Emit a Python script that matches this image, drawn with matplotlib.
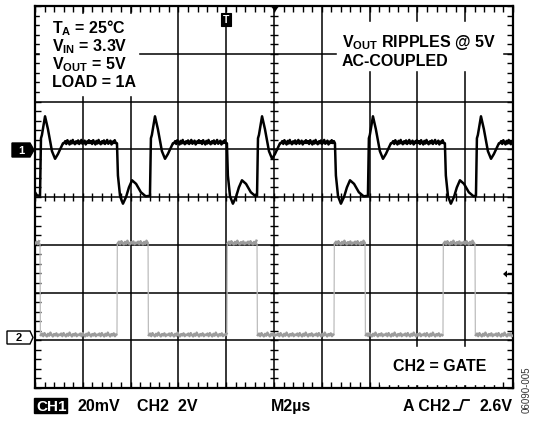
import numpy as np
import matplotlib
matplotlib.use("Agg")
import matplotlib.pyplot as plt
from matplotlib.patches import Polygon, Rectangle

plt.rcParams["font.family"] = ["Liberation Sans", "DejaVu Sans"]
plt.rcParams["mathtext.default"] = "regular"

# --- CH1: Vout ripple (mV), 2 us/div, 20 mV/div ---
start_mv = [-18.0, -19.3]                       # trace before the first rising edge
rise_t = [0.21, 4.81, 9.29, 13.93, 18.45]       # us, switch turns off -> output jumps
drop_t = [3.43, 8.03, 12.55, 17.15]             # us, switch turns on -> output drops
ring_dt = [0.00, 0.04, 0.08, 0.21, 0.33, 0.50, 0.63, 0.75, 0.96]
ring_mv = [-19.5, 4.6, 6.0, 13.8, 8.5, -0.8, -4.0, -2.0, 2.5]
dip_dt = [0.00, 0.04, 0.13, 0.25, 0.38, 0.50, 0.63, 0.80, 1.00, 1.20]
dip_mv = [2.5, -11.0, -19.7, -22.8, -20.0, -16.0, -13.0, -14.5, -18.0, -19.7]
# trace noise on the flat top (mV)
flat_mv = [2.6, 3.4, 2.2, 3.8, 2.9, 2.0, 3.5, 2.4, 3.9, 2.7, 2.1, 3.3,
           2.5, 3.7, 2.2, 3.0, 3.9, 2.3, 2.8, 3.6, 2.0, 3.2, 2.6, 3.8]

# --- CH2: gate drive (V), 2 V/div ---
gate_up_t = [3.43, 8.03, 12.51, 17.07]
gate_down_t = [0.21, 4.73, 9.29, 13.81, 18.41]
gate_hi_v = 4.06
gate_lo_v = 0.21
gate_noise_v = [0.00, 0.07, -0.04, 0.09, 0.01, -0.05, 0.06, -0.02, 0.11, 0.02,
                -0.05, 0.05, -0.01, 0.08, -0.04, 0.03]

CH1_POS = 5.0   # screen divisions of the channel markers
CH2_POS = 1.0


def build_ch1():
    t = [0.0, 0.08]
    v = list(start_mv)
    for i, r in enumerate(rise_t):
        t += [r + d for d in ring_dt]
        v += ring_mv
        f0 = r + ring_dt[-1]
        f1 = drop_t[i] if i < len(drop_t) else 20.0
        ft = np.arange(f0 + 0.05, f1 - 0.02, 0.045)
        t += list(ft)
        v += [flat_mv[k % len(flat_mv)] for k in range(len(ft))]
        if i < len(drop_t):
            t += [drop_t[i] + d for d in dip_dt]
            v += dip_mv
    t.append(20.0)
    v.append(flat_mv[0])
    return np.array(t), CH1_POS + np.array(v) / 20.0


def build_ch2():
    edges = sorted([(x, 0) for x in gate_down_t] + [(x, 1) for x in gate_up_t])
    t, v = [0.0], [gate_hi_v]
    level = gate_hi_v
    segs = []
    last = 0.0
    for x, up in edges:
        segs.append((last, x, level))
        new = gate_hi_v if up else gate_lo_v
        t += [x, x + 0.015]
        v += [level, new]
        level, last = new, x + 0.015
    segs.append((last, 20.0, level))
    t.append(20.0)
    v.append(level)
    return np.array(t), CH2_POS + np.array(v) / 2.0, segs


fig = plt.figure(figsize=(5.35, 4.21), dpi=100)
ax = fig.add_axes([35 / 535, 33 / 421, 478 / 535, 382 / 421])
ax.set_xlim(0, 20)
ax.set_ylim(0, 8)

# graticule
for x in range(0, 21, 2):
    ax.axvline(x, color="k", lw=1.1, zorder=1)
for y in range(0, 9):
    ax.axhline(y, color="k", lw=1.1, zorder=1)
for s in ax.spines.values():
    s.set_linewidth(1.6)
ax.set_xticks(range(0, 21, 2))
ax.set_xticks(np.arange(0, 20.01, 0.4), minor=True)
ax.set_yticks(range(0, 9))
ax.set_yticks(np.arange(0, 8.01, 0.2), minor=True)
ax.tick_params(which="both", direction="in", length=4, width=1,
               top=True, right=True, labelbottom=False, labelleft=False)
cx = np.arange(0, 20.01, 0.4)
ax.plot(cx, np.full(len(cx), 4.0), ls="none", marker="|", ms=6, mew=1, color="k", zorder=1)
cy = np.arange(0, 8.01, 0.2)
ax.plot(np.full(len(cy), 10.0), cy, ls="none", marker="_", ms=6, mew=1, color="k", zorder=1)

# traces
gt, gv, gsegs = build_ch2()
ax.plot(gt, gv, color="#bdbdbd", lw=0.9, zorder=3)
for a, b, lv in gsegs:
    xs = np.arange(a + 0.02, b - 0.01, 0.05)
    ys = [lv + gate_noise_v[k % len(gate_noise_v)] for k in range(len(xs))]
    ax.plot(xs, CH2_POS + np.array(ys) / 2.0, color="#9c9c9c", lw=1.7, zorder=3)
t1, v1 = build_ch1()
ax.plot(t1, v1, color="k", lw=1.8, zorder=4, solid_joinstyle="round")

# overlay in pixel coordinates for screen annotations
ov = fig.add_axes([0, 0, 1, 1])
ov.set_xlim(0, 535)
ov.set_ylim(421, 0)
ov.axis("off")

ov.add_patch(Rectangle((40, 14), 98, 81, color="white", zorder=1))
ov.add_patch(Rectangle((337, 22), 165, 48, color="white", zorder=1))
ov.add_patch(Rectangle((380, 347), 120, 37, color="white", zorder=1))

kw = dict(fontsize=11.5, fontweight="bold", color="k", va="baseline", zorder=2)
ov.text(52, 33, "T$_{A}$ = 25°C", **kw)
ov.text(52, 51, "V$_{IN}$ = 3.3V", **kw)
ov.text(52, 69, "V$_{OUT}$ = 5V", **kw)
ov.text(52, 87, "LOAD = 1A", **kw)
ov.text(342, 47, "V$_{OUT}$ RIPPLES @ 5V", **kw)
ov.text(342, 66, "AC-COUPLED", **kw)
ov.text(393, 371, "CH2 = GATE", **kw)

# channel markers
ov.add_patch(Polygon([(12, 143), (30, 143), (34, 150), (30, 157), (12, 157)],
                     closed=True, facecolor="k", edgecolor="k", lw=1))
ov.text(21, 150.5, "1", color="white", fontsize=8, fontweight="bold", ha="center", va="center")
ov.add_patch(Polygon([(7, 331), (30, 331), (33, 337.5), (30, 344), (7, 344)],
                     closed=True, facecolor="white", edgecolor="k", lw=1))
ov.text(18.5, 338, "2", color="k", fontsize=8, fontweight="bold", ha="center", va="center")

# trigger marks
ov.add_patch(Rectangle((221, 13), 10, 13, facecolor="k", edgecolor="k", lw=0.8))
ov.text(226, 19.8, "T", color="white", fontsize=7.5, fontweight="bold", ha="center", va="center")
ov.add_patch(Polygon([(271, 6), (279, 6), (275, 12)], closed=True, facecolor="k"))
ov.add_patch(Polygon([(503, 274), (507, 270.5), (507, 277.5)], closed=True, facecolor="k"))
ov.plot([506, 511], [274, 274], color="k", lw=1)

# bottom status line
ov.add_patch(Rectangle((34, 398), 33, 15, facecolor="k", edgecolor="k"))
ov.text(36, 411, "CH1", color="white", fontsize=11, fontweight="bold", va="baseline")
ov.text(77, 411, "20mV", **kw)
ov.text(137, 411, "CH2  2V", **kw)
ov.text(271, 411, "M2µs", **kw)
ov.text(403, 411, "A CH2", **kw)
ov.plot([454, 460, 463, 469], [410, 410, 400, 400], color="k", lw=1.3)
ov.text(513, 411, "2.6V", ha="right", **kw)
ov.text(527, 390, "06090-005", rotation=90, fontsize=7, color="#333333",
        ha="center", va="center")

fig.savefig("out.png", dpi=100)
